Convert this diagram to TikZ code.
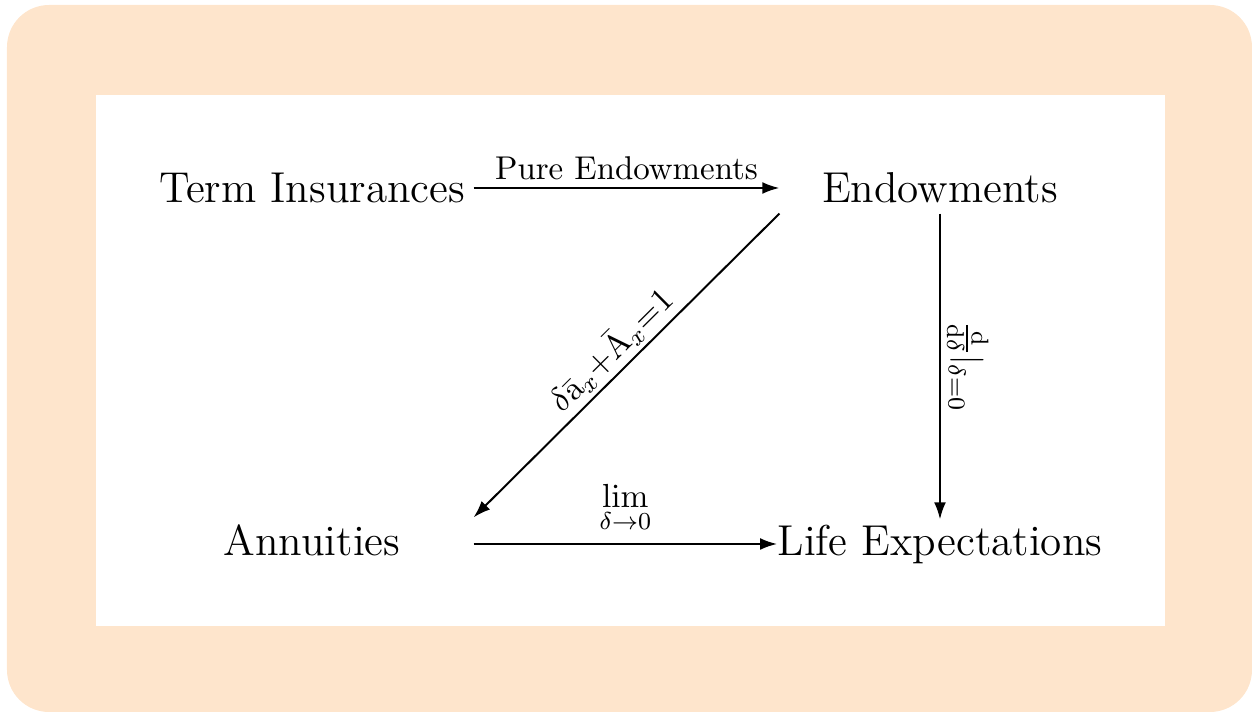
\documentclass[tikz,border=0pt]{standalone}
\usetikzlibrary{arrows.meta}
\definecolor{peach}{RGB}{254,229,204}
\begin{document}
\begin{tikzpicture}[x=0.328pt,y=-0.328pt,
  obj/.style={inner sep=0pt, font=\fontsize{14.17}{17}\selectfont},
  lbl/.style={font=\fontsize{10.8}{13}\selectfont},
  mlbl/.style={font=\fontsize{11.4}{13.5}\selectfont},
  arr/.style={line width=0.65pt, -{Latex[length=5.6pt,width=3.9pt]}}]
\useasboundingbox (0,0) rectangle (1252,713);
\fill[peach, rounded corners=13.8pt] (7,5) rectangle (1252,712);
\fill[white] (96,95) rectangle (1165,626);
\node[obj, minimum width={322*0.328pt}, minimum height={50*0.328pt}] (ti) at (312,188) {Term Insurances};
\node[obj, minimum width={320*0.328pt}, minimum height={50*0.328pt}] (en) at (940,188) {Endowments};
\node[obj, minimum width={322*0.328pt}, minimum height={44*0.328pt}] (an) at (312,540) {Annuities};
\node[obj, minimum width={320*0.328pt}, minimum height={48*0.328pt}] (le) at (940,544) {Life Expectations};
\draw[arr] (ti.east) -- node[lbl, above, inner sep=2.5pt] {Pure Endowments} (en.west);
\draw[arr] (en.south west) -- node[mlbl, midway, sloped, above, inner sep=1.5pt] {$\delta\bar{\mathrm{a}}_x{+}\bar{\mathrm{A}}_x{=}1$} (an.north east);
\draw[arr] (en.south) -- node[mlbl, midway, anchor=south, rotate=-90, inner sep=2pt] {$\frac{\mathrm{d}}{\mathrm{d}\delta}\big|_{\delta=0}$} (le.north);
\draw[arr] (an.east |- le.west) -- node[mlbl, midway, above, inner sep=3.5pt] {$\lim\limits_{\delta\to0}$} (le.west);
\end{tikzpicture}
\end{document}
